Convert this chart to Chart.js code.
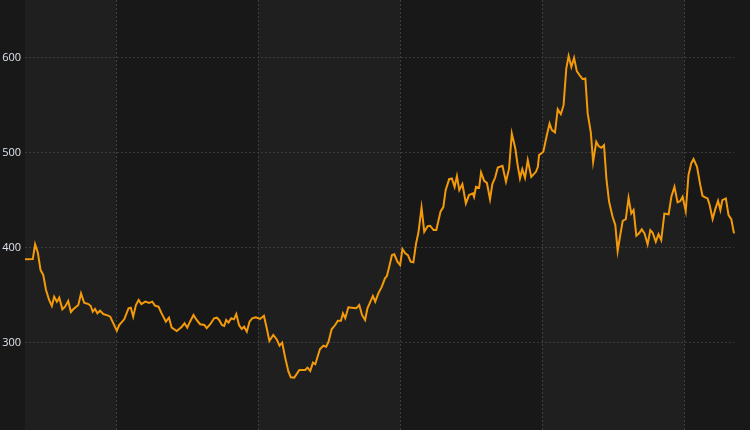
<!DOCTYPE html>
<html>
<head>
<meta charset="utf-8">
<script src="https://cdn.jsdelivr.net/npm/chart.js@4/dist/chart.umd.min.js"></script>
<style>
  html, body { margin: 0; padding: 0; background: #181818; }
  #wrap { width: 750px; height: 430px; }
</style>
</head>
<body>
<div id="wrap"><canvas id="c" width="750" height="430"></canvas></div>
<script>
// Day offsets (from the start of period 0; each period = 365 days)
const days = [131,151,157,164,171,178,185,193,200,206,213,219,227,234,242,249,255,268,275,283,294,300,305,311,317,324,332,343,350,358,367,373,386,397,403,409,416,423,430,440,450,458,465,474,482,493,501,508,521,534,541,548,555,564,572,581,592,598,607,617,624,630,637,643,648,654,661,668,674,681,688,694,701,708,715,724,735,745,752,759,769,778,785,792,799,808,814,823,836,851,857,864,871,877,889,898,905,911,919,928,935,943,948,954,962,971,982,990,997,1005,1011,1025,1031,1039,1048,1056,1061,1067,1074,1080,1088,1095,1101,1108,1115,1122,1129,1136,1142,1150,1157,1166,1172,1181,1188,1199,1206,1212,1221,1228,1235,1241,1247,1255,1264,1272,1282,1285,1290,1298,1303,1311,1318,1326,1332,1339,1346,1358,1367,1375,1382,1391,1397,1403,1409,1416,1423,1432,1444,1449,1452,1463,1472,1479,1485,1493,1500,1508,1515,1522,1528,1535,1542,1549,1558,1564,1571,1577,1585,1591,1599,1605,1612,1619,1625,1632,1641,1648,1654,1660,1667,1675,1682,1689,1695,1702,1709,1716,1723,1731,1738,1744,1752,1759,1766,1774,1785,1792,1800,1808,1815,1821,1829,1836,1843,1849,1858,1866,1872,1879,1885,1890,1898,1905,1912,1918,1923,1932,1939,1946,1953];
const prices = [387.8,388.1,403.6,394.7,376.5,371.3,355.5,345.0,338.6,348.4,343.2,347.4,335.2,337.9,343.9,332.3,335.2,339.7,352.0,342.1,340.7,338.6,332.6,335.5,330.9,333.7,330.2,328.8,327.4,320.4,312.6,318.6,324.6,336.2,336.8,327.4,339.7,345.0,340.7,343.2,341.8,343.2,339.0,337.9,330.9,322.1,326.3,315.8,312.3,316.8,320.4,315.8,322.1,329.2,323.9,319.4,318.6,315.2,319.4,325.7,326.3,323.9,318.6,317.6,323.9,321.1,325.7,324.6,330.2,318.6,314.4,316.8,311.6,322.1,325.7,326.7,325.0,328.4,315.8,301.8,308.1,303.4,296.8,300.0,285.3,269.5,263.6,263.2,271.3,271.3,273.7,270.2,279.0,277.3,293.4,296.8,295.8,301.1,314.1,318.6,323.2,323.2,330.9,325.7,337.3,336.8,336.2,339.7,329.2,323.9,336.2,349.2,343.2,352.0,359.0,367.8,370.2,380.0,392.3,393.1,385.3,381.8,398.6,394.1,392.3,385.3,384.6,404.6,415.8,442.3,416.9,422.8,423.2,418.6,418.6,438.3,442.8,460.7,472.3,473.1,464.2,475.5,460.7,467.1,446.7,455.5,457.3,453.7,464.2,463.2,479.4,470.5,468.4,451.0,467.1,473.7,484.6,486.3,469.5,483.6,520.4,504.6,487.1,473.1,482.8,473.7,492.3,474.7,480.0,485.3,497.6,501.1,518.6,530.9,523.9,521.5,546.0,540.7,550.2,588.8,602.1,590.5,600.0,586.0,580.7,577.6,578.3,541.5,521.5,490.5,511.6,507.1,505.3,508.1,473.1,448.4,432.6,423.9,396.5,411.6,428.4,430.2,452.6,436.2,439.7,412.6,415.2,419.4,415.2,403.6,418.6,415.8,406.3,414.4,408.1,436.0,435.2,453.7,464.2,447.8,449.2,453.7,438.6,476.5,488.8,493.4,485.3,466.7,454.7,453.1,452.0,445.7,430.2,440.7,449.5,439.7,450.2,452.0,434.4,430.2,415.2];
const periodBounds = [365, 730, 1095, 1460, 1825];
const yTicks = [300, 400, 500, 600];

const points = days.map((d, i) => ({ x: d, y: prices[i] }));

const bandPlugin = {
  id: 'bands',
  beforeDraw(chart) {
    const { ctx, chartArea, scales } = chart;
    ctx.save();
    ctx.fillStyle = '#181818';
    ctx.fillRect(0, 0, chart.width, chart.height);
    const xs = scales.x;
    const edges = [xs.min, ...periodBounds, xs.max];
    for (let i = 0; i < edges.length - 1; i++) {
      if (i % 2 === 0) {
        const a = xs.getPixelForValue(edges[i]);
        const b = xs.getPixelForValue(edges[i + 1]);
        ctx.fillStyle = '#1f1f1f';
        ctx.fillRect(a, chartArea.top, b - a, chartArea.bottom - chartArea.top);
      }
    }
    ctx.restore();
  }
};

function zeroPad(s) {
  s.paddingTop = 0; s.paddingBottom = 0; s.paddingLeft = 0; s.paddingRight = 0;
}

new Chart(document.getElementById('c'), {
  type: 'line',
  data: {
    datasets: [{
      data: points,
      borderColor: '#f39a0a',
      borderWidth: 2,
      pointRadius: 0,
      tension: 0,
      fill: false,
      clip: false
    }]
  },
  options: {
    responsive: false,
    animation: false,
    events: [],
    layout: { padding: { left: 0, right: 16, top: 0, bottom: 0 } },
    plugins: { legend: { display: false }, tooltip: { enabled: false } },
    scales: {
      x: {
        type: 'linear',
        min: 131,
        max: 1953,
        afterBuildTicks(s) { s.ticks = periodBounds.map(v => ({ value: v })); },
        afterFit(s) { s.height = 0; zeroPad(s); },
        ticks: { display: false },
        border: { display: false, dash: [2, 2] },
        grid: { color: '#3e3e3e', lineWidth: 1, drawTicks: false, tickLength: 0 }
      },
      y: {
        min: 208,
        max: 661,
        afterBuildTicks(s) { s.ticks = yTicks.map(v => ({ value: v })); },
        afterFit(s) { s.width = 25; zeroPad(s); },
        border: { display: false, dash: [2, 2] },
        grid: { color: '#3a3a3a', lineWidth: 1, drawTicks: false, tickLength: 0 },
        ticks: {
          color: '#dce3ec',
          padding: 4,
          font: { family: 'Open Sans, Liberation Sans, sans-serif', size: 11 }
        }
      }
    }
  },
  plugins: [bandPlugin]
});
</script>
</body>
</html>
